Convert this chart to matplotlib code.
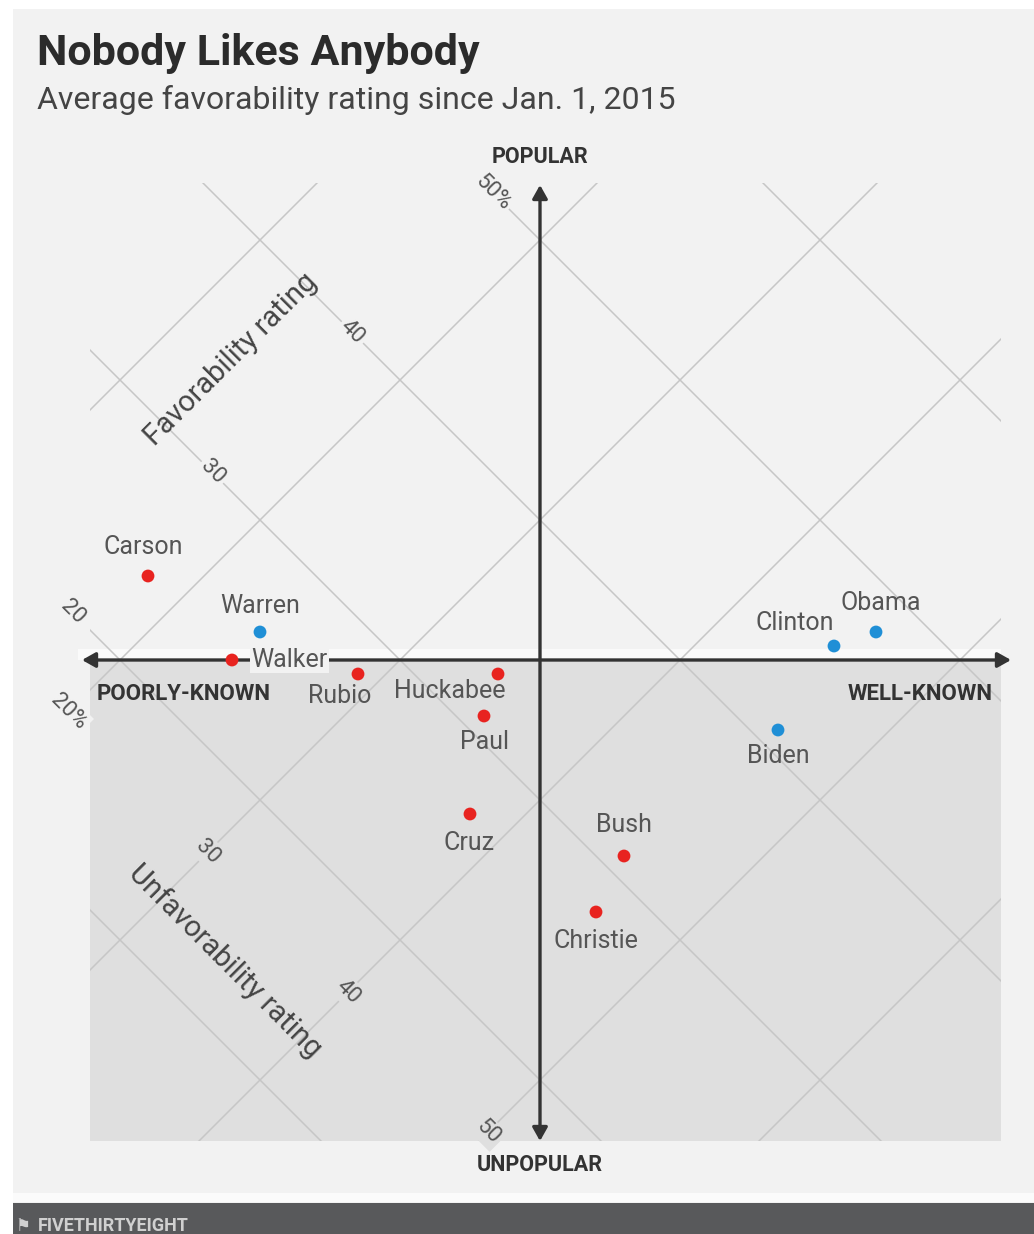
import matplotlib
matplotlib.use('Agg')
import matplotlib.pyplot as plt
from matplotlib.patches import Rectangle

# ---------------- data ----------------
names = ['Carson', 'Warren', 'Walker', 'Rubio', 'Huckabee', 'Paul',
         'Cruz', 'Bush', 'Christie', 'Clinton', 'Obama', 'Biden']
party = ['R', 'D', 'R', 'R', 'R', 'R', 'R', 'R', 'R', 'D', 'D', 'D']
favorable = [24, 26, 24, 28, 33, 31, 27, 31, 28, 46, 48, 41]
unfavorable = [18, 24, 24, 29, 34, 35, 38, 45, 46, 45, 46, 46]

grid_levels = [10, 20, 30, 40, 50, 60]
fav_tick_values = [20, 30, 40, 50]
fav_tick_labels = ['20', '30', '40', '50%']
unfav_tick_values = [20, 30, 40, 50]
unfav_tick_labels = ['20%', '30', '40', '50']

title = 'Nobody Likes Anybody'
subtitle = 'Average favorability rating since Jan. 1, 2015'

# ---------------- style ----------------
W, H = 1034, 1234
BG = '#f2f2f2'
SHADE = '#dfdfdf'
GRID = '#c6c6c6'
AXC = '#333333'
TXT = '#555555'
COL = {'R': '#e8231f', 'D': '#1f8fd6'}
FONT = 'Roboto'

# label offsets in pixels (dx, dy up) and alignment
label_style = {
    'Carson': (-5, 29, 'center'), 'Warren': (0, 26, 'center'),
    'Walker': (19, 0, 'left'), 'Rubio': (-18, -22, 'center'),
    'Huckabee': (-48, -17, 'center'), 'Paul': (0, -26, 'center'),
    'Cruz': (-1, -29, 'center'), 'Bush': (0, 31, 'center'),
    'Christie': (0, -29, 'center'), 'Clinton': (-39, 23, 'center'),
    'Obama': (5, 29, 'center'), 'Biden': (0, -26, 'center'),
}

plt.rcParams['font.family'] = [FONT, 'DejaVu Sans']

fig = plt.figure(figsize=(W / 100, H / 100), dpi=100, facecolor='white')


def fx(x):
    return x / W


def fy(y):
    return 1 - y / H


# page background (white border on left/top)
fig.patches.append(Rectangle((fx(13), 0), 1 - fx(13), fy(9), transform=fig.transFigure,
                             facecolor=BG, edgecolor='none', zorder=-10))
# footer
fig.patches.append(Rectangle((fx(13), fy(1202)), 1 - fx(13), fy(1193) - fy(1202),
                             transform=fig.transFigure, facecolor='#fbfbfb',
                             edgecolor='none', zorder=-9))
fig.patches.append(Rectangle((fx(13), 0), 1 - fx(13), fy(1203),
                             transform=fig.transFigure, facecolor='#58595b',
                             edgecolor='none', zorder=-9))
fig.text(fx(38), fy(1217), 'FIVETHIRTYEIGHT', color='#d0d0d0', fontsize=13,
         fontweight='bold', va='top', ha='left')
fig.text(fx(15), fy(1217), '\u2691', color='#d0d0d0', fontsize=12,
         va='top', ha='left', family=['DejaVu Sans'])

# plot rectangle in pixels
L, R, T, B = 90, 1001, 183, 1141
CX, CY, SCALE, S0 = 540, 660, 14.0, 70.0
ax = fig.add_axes([fx(L), fy(B), (R - L) / W, (B - T) / H])
s_min = S0 + (L - CX) / SCALE
s_max = S0 + (R - CX) / SCALE
d_min = (CY - B) / SCALE
d_max = (CY - T) / SCALE
ax.set_xlim(s_min, s_max)
ax.set_ylim(d_min, d_max)
ax.axis('off')

# lower shaded half
ax.add_patch(Rectangle((s_min, d_min), s_max - s_min, 0 - d_min,
                       facecolor=SHADE, edgecolor='none', zorder=0))
# light strip above the horizontal axis
ax.add_patch(Rectangle((S0 + (78 - CX) / SCALE, 0), (R - 78) / SCALE, 11 / SCALE,
                       facecolor='#fafafa', edgecolor='none', zorder=0.5,
                       clip_on=False))

# grid: constant favorability (S + D = 2f) and unfavorability (S - D = 2u)
for g in grid_levels:
    ss = [0, 140]
    ax.plot(ss, [2 * g - s for s in ss], color=GRID, lw=1.1, zorder=1)
    ax.plot(ss, [s - 2 * g for s in ss], color=GRID, lw=1.1, zorder=1)

# tick labels on the diagonal axes
FAV_AT_U = 16.6
UNF_AT_F = 16.3
for v, lab in zip(fav_tick_values, fav_tick_labels):
    s, d = v + FAV_AT_U, v - FAV_AT_U
    ax.text(s, d, lab, rotation=-45, ha='center', va='center', fontsize=16,
            color=TXT, zorder=2, clip_on=False,
            bbox=dict(boxstyle='square,pad=0.12', facecolor=BG, edgecolor='none'))
for v, lab in zip(unfav_tick_values, unfav_tick_labels):
    s, d = UNF_AT_F + v, UNF_AT_F - v
    xpix = CX + (s - S0) * SCALE
    fc = SHADE if xpix > L + 10 else BG
    ax.text(s, d, lab, rotation=-45, ha='center', va='center', fontsize=16,
            color=TXT, zorder=2, clip_on=False,
            bbox=dict(boxstyle='square,pad=0.12', facecolor=fc, edgecolor='none'))

# axis titles
ax.text(34.7 + 13.2, 34.7 - 13.2, 'Favorability rating', rotation=45,
        ha='center', va='center', fontsize=21, color='#444444', zorder=2)
ax.text(13.0 + 34.5, 13.0 - 34.5, 'Unfavorability rating', rotation=-45,
        ha='center', va='center', fontsize=21, color='#444444', zorder=2)

# main axes arrows
x_left = S0 + (82 - CX) / SCALE
x_right = S0 + (1011 - CX) / SCALE
y_top = (CY - 185) / SCALE
y_bot = (CY - 1141) / SCALE
ap = dict(arrowstyle='<|-|>,head_length=0.8,head_width=0.45', color=AXC, lw=2.4,
          shrinkA=0, shrinkB=0)
ax.annotate('', xy=(x_right, 0), xytext=(x_left, 0), arrowprops=ap,
            annotation_clip=False, zorder=3)
ax.annotate('', xy=(S0, y_top), xytext=(S0, y_bot), arrowprops=ap,
            annotation_clip=False, zorder=3)

# axis direction labels
fig.text(fx(540), fy(157), 'POPULAR', ha='center', va='center', fontsize=15.5,
         fontweight='bold', color='#333333')
fig.text(fx(540), fy(1165), 'UNPOPULAR', ha='center', va='center', fontsize=15.5,
         fontweight='bold', color='#333333')
fig.text(fx(97), fy(694), 'POORLY-KNOWN', ha='left', va='center', fontsize=16,
         fontweight='bold', color='#333333')
fig.text(fx(993), fy(694), 'WELL-KNOWN', ha='right', va='center', fontsize=16,
         fontweight='bold', color='#333333')

# data points
S = [f + u for f, u in zip(favorable, unfavorable)]
D = [f - u for f, u in zip(favorable, unfavorable)]
ax.scatter(S, D, s=85, c=[COL[p] for p in party], edgecolors='none', zorder=5,
           clip_on=False)
for n, s, d in zip(names, S, D):
    dx, dy, ha = label_style[n]
    kw = {}
    if n == 'Walker':
        kw['bbox'] = dict(boxstyle='square,pad=0.05', facecolor=BG, edgecolor='none')
    ax.annotate(n, (s, d), xytext=(dx, dy), textcoords='offset pixels', ha=ha,
                va='center', fontsize=18, color=TXT, zorder=6,
                annotation_clip=False, **kw)

# titles
fig.text(fx(37), fy(54), title, ha='left', va='center', fontsize=31,
         fontweight='bold', color='#2b2b2b')
fig.text(fx(37), fy(100), subtitle, ha='left', va='center', fontsize=23,
         color='#444444')

fig.savefig('out.png', dpi=100, facecolor='white')
